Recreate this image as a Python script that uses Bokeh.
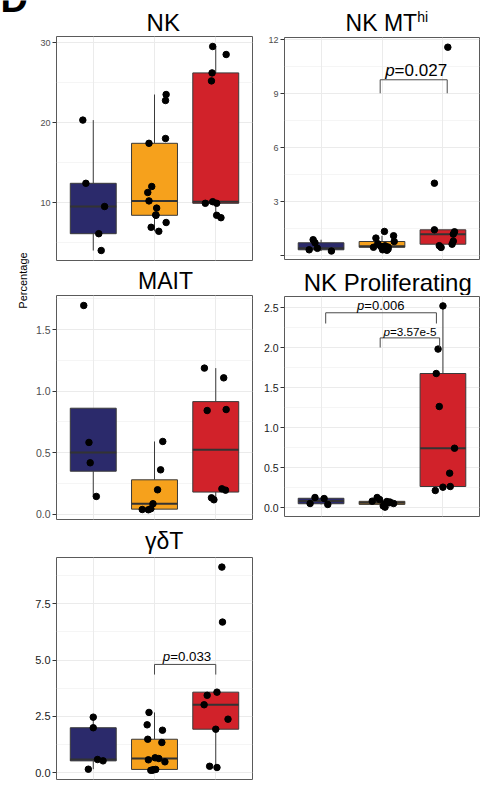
import math
import numpy as np
from bokeh.plotting import figure
from bokeh.models import Range1d, FixedTicker, Label, Grid, ColumnDataSource, NumeralTickFormatter
from bokeh.layouts import row, column
from bokeh.embed import file_html
from bokeh.resources import INLINE

FONT = "Liberation Sans"
MID = 0.35  # distance (in em) from the alphabetic baseline up to the text-box middle

# ---------------- data ----------------
group_names = ["Group 1", "Group 2", "Group 3"]
group_colors = ["#2B2A6B", "#F6A11C", "#D1222A"]

# NK
nk_g1 = [20.3, 12.4, 9.5, 6.1, 4.0]
nk_g2 = [23.5, 22.75, 18.0, 17.4, 12.0, 11.25, 10.2, 9.3, 8.45, 8.4, 7.5, 6.9, 6.4]
nk_g3 = [29.5, 28.5, 26.2, 25.2, 9.9, 10.1, 9.9, 8.4, 8.1]
nk_j1 = [-0.17, -0.12, 0.185, 0.09, 0.13]
nk_j2 = [0.19, 0.18, 0.18, -0.09, -0.045, -0.11, -0.09, 0.035, 0.02, 0.025, 0.19, -0.055, 0.07]
nk_j3 = [-0.05, 0.17, -0.06, -0.07, -0.17, -0.05, 0.015, 0.015, 0.085]

# NK MThi
mt_g1 = [0.89, 0.72, 0.33, 0.41, 0.26]
mt_g2 = [1.35, 1.11, 0.98, 0.79, 0.67, 0.55, 0.52, 0.50, 0.48, 0.47, 0.37, 0.33, 0.30]
mt_g3 = [11.59, 4.03, 1.44, 1.33, 1.2, 0.81, 0.64, 0.56, 0.46]
mt_j1 = [-0.13, -0.10, -0.195, -0.06, 0.17]
mt_j2 = [0.04, 0.19, -0.10, 0.20, -0.07, 0.05, -0.02, -0.01, 0.10, -0.14, 0.10, 0.01, 0.08]
mt_j3 = [0.08, -0.14, -0.14, 0.19, 0.17, 0.17, 0.15, -0.06, -0.03]

# MAIT
mait_g1 = [1.695, 0.584, 0.419, 0.146]
mait_g2 = [0.592, 0.362, 0.2, 0.087, 0.046, 0.038, 0.04]
mait_g3 = [1.187, 1.108, 0.843, 0.851, 0.208, 0.197, 0.135, 0.119]
mait_j1 = [-0.155, -0.07, -0.05, 0.05]
mait_j2 = [0.135, 0.10, 0.05, -0.025, -0.06, -0.10, -0.2]
mait_j3 = [-0.185, 0.13, -0.14, 0.17, 0.10, 0.16, -0.07, -0.03]

# NK Proliferating
pro_g1 = [0.125, 0.112, 0.05, 0.038]
pro_g2 = [0.125, 0.10, 0.079, 0.075, 0.068, 0.06, 0.05, 0.045, 0.033, 0.02, 0.004]
pro_g3 = [2.52, 1.98, 1.675, 1.2625, 0.741, 0.429, 0.2125, 0.254, 0.2625]
pro_j1 = [-0.10, 0.05, -0.18, 0.11]
pro_j2 = [-0.08, -0.04, -0.16, 0.08, 0.13, 0.125, 0.19, 0.05, 0.04, 0.02, 0.05]
pro_j3 = [0.0, -0.08, -0.11, -0.06, 0.19, 0.11, -0.125, 0.0, 0.12]

# gamma delta T
gd_g1 = [2.47, 2.0, 0.59, 0.53, 0.16]
gd_g2 = [2.68, 2.13, 1.89, 1.49, 1.345, 0.666, 0.635, 0.577, 0.488, 0.15, 0.133, 0.12, 0.11]
gd_g3 = [9.13, 6.69, 3.58, 3.44, 3.02, 2.38, 1.935, 0.29, 0.235]
gd_j1 = [0.0, 0.0, 0.07, 0.16, -0.08]
gd_j2 = [-0.09, -0.12, 0.13, -0.11, 0.12, 0.01, 0.07, -0.10, 0.17, 0.02, -0.02, -0.03, -0.06]
gd_j3 = [0.10, 0.11, 0.02, -0.14, -0.19, 0.2, 0.0, -0.10, 0.02]

# y ticks
nk_ticks = [10, 20, 30]
mt_ticks = [0, 3, 6, 9, 12]
mait_ticks = [0, 0.5, 1.0, 1.5]
pro_ticks = [0, 0.5, 1.0, 1.5, 2.0, 2.5]
gd_ticks = [0, 2.5, 5.0, 7.5]

# p-value annotations: (x_start, x_end, bracket_y, tip_y, p_text, text_x, text_baseline_y)
mt_pvals = [(1.97, 3.07, 9.78, 9.03, "0.027", 2.56, 9.96)]
pro_pvals = [(1.076, 2.893, 2.434, 2.30, "0.006", 1.98, 2.4625),
             (1.97, 2.946, 2.12, 2.0, "3.57e-5", 2.46, 2.154)]
gd_pvals = [(2.0, 3.0, 4.81, 4.36, "0.033", 2.53, 4.94)]

# ---------------- helpers ----------------
EM = {'p': .556, '=': .584, '.': .278, 'e': .556, '-': .333}


def em_width(s):
    return sum(EM.get(c, .556) for c in s)


def box_stats(v):
    v = np.asarray(v, float)
    q1, med, q3 = np.percentile(v, [25, 50, 75])
    iqr = q3 - q1
    lo = v[v >= q1 - 1.5 * iqr].min()
    hi = v[v <= q3 + 1.5 * iqr].max()
    return q1, med, q3, min(lo, q1), max(hi, q3)


def make_panel(width, height, borders, yr, ticks, minor, groups, jitters,
               tick_size, tick_color, fmt=None, overrides=None,
               pvals=(), p_sizes=()):
    l, r, t, b = borders
    p = figure(width=width, height=height, x_range=Range1d(0.4, 3.6),
               y_range=Range1d(*yr), output_backend="svg", toolbar_location=None,
               x_axis_type=None, min_border_left=l, min_border_right=r,
               min_border_top=t, min_border_bottom=b,
               background_fill_color="white", border_fill_color="white")
    p.outline_line_color = "#5a5a5a"
    p.outline_line_width = 1
    ax = p.yaxis[0]
    ax.ticker = FixedTicker(ticks=ticks, minor_ticks=minor)
    if fmt:
        ax.formatter = NumeralTickFormatter(format=fmt)
    if overrides:
        ax.major_label_overrides = overrides
    ax.axis_line_color = None
    ax.major_tick_line_color = "#333333"
    ax.major_tick_out = 4
    ax.major_tick_in = 0
    ax.minor_tick_line_color = None
    ax.major_label_standoff = 2
    ax.major_label_text_font = FONT
    ax.major_label_text_font_size = f"{tick_size}px"
    ax.major_label_text_color = tick_color
    p.ygrid.grid_line_color = "#EBEBEB"
    p.ygrid.grid_line_width = 1
    p.ygrid.minor_grid_line_color = "#EFEFEF"
    p.ygrid.minor_grid_line_width = 0.6
    xg = Grid(dimension=0, ticker=FixedTicker(ticks=[1, 2, 3]),
              grid_line_color="#EBEBEB", grid_line_width=1)
    p.add_layout(xg)

    xs = [1, 2, 3]
    stats = [box_stats(g) for g in groups]
    src = ColumnDataSource(dict(
        x=xs, q1=[s[0] for s in stats], med=[s[1] for s in stats],
        q3=[s[2] for s in stats], lo=[s[3] for s in stats], hi=[s[4] for s in stats],
        color=group_colors, name=group_names,
        xl=[x - 0.375 for x in xs], xr=[x + 0.375 for x in xs]))
    p.segment(x0="x", x1="x", y0="q3", y1="hi", source=src, line_color="#3a3a3a", line_width=1)
    p.segment(x0="x", x1="x", y0="q1", y1="lo", source=src, line_color="#3a3a3a", line_width=1)
    p.vbar(x="x", width=0.75, bottom="q1", top="q3", source=src,
           fill_color="color", line_color="#3a3a3a", line_width=1)
    p.segment(x0="xl", x1="xr", y0="med", y1="med", source=src,
              line_color="#333333", line_width=2)

    px, py = [], []
    for i, (g, j) in enumerate(zip(groups, jitters)):
        px += [xs[i] + d for d in j]
        py += list(g)
    p.scatter(x=px, y=py, size=6.5, color="black")

    ppu = (height - t - b) / (yr[1] - yr[0])  # pixels per data unit
    for (x0, x1, yb, yt, txt, tx, ty), ps in zip(pvals, p_sizes):
        p.segment(x0=[x0, x0, x1], x1=[x1, x0, x1], y0=[yb, yb, yb], y1=[yb, yt, yt],
                  line_color="#4a4a4a", line_width=1)
        off = (em_width("p") - em_width("=" + txt)) * ps / 2
        ym = ty + MID * ps / ppu
        p.add_layout(Label(x=tx, y=ym, text="p", text_align="right", x_offset=off,
                           text_font=FONT, text_font_style="italic",
                           text_font_size=f"{ps}px", text_color="black",
                           text_baseline="middle"))
        p.add_layout(Label(x=tx, y=ym, text="=" + txt, text_align="left", x_offset=off,
                           text_font=FONT, text_font_size=f"{ps}px",
                           text_color="black", text_baseline="middle"))
    return p


def make_strip(width, height, labels):
    # a blank strip whose data units equal pixels, measured from its top-left
    s = figure(width=width, height=height, x_range=Range1d(0, width),
               y_range=Range1d(height, 0), x_axis_type=None, y_axis_type=None,
               output_backend="svg", toolbar_location=None, min_border=0,
               outline_line_color=None, background_fill_color="white",
               border_fill_color="white")
    for (txt, x, y, size, align, style, angle) in labels:
        ym = y - MID * size if angle == 0 else y
        s.add_layout(Label(x=x, y=ym, text=txt, text_align=align,
                           text_baseline="middle", angle=angle, text_font=FONT,
                           text_font_size=f"{size}px", text_font_style=style,
                           text_color="black"))
    return s


# ---------------- panels ----------------
p1 = make_panel(230, 231, (24, 5, 1, 6), (2.75, 30.75), nk_ticks, [5, 15, 25],
                [nk_g1, nk_g2, nk_g3], [nk_j1, nk_j2, nk_j3], 9, "#4D4D4D")

p2 = make_panel(222, 231, (19, 3, 2, 7), (-0.21, 12.13), mt_ticks, [1.5, 4.5, 7.5, 10.5],
                [mt_g1, mt_g2, mt_g3], [mt_j1, mt_j2, mt_j3], 9, "#4D4D4D",
                overrides={0: ""}, pvals=mt_pvals, p_sizes=[17])

p3 = make_panel(230, 230, (26, 3, 1, 5), (-0.041, 1.776), mait_ticks, [0.25, 0.75, 1.25, 1.75],
                [mait_g1, mait_g2, mait_g3], [mait_j1, mait_j2, mait_j3], 10.5, "#4D4D4D",
                fmt="0.0")

p4 = make_panel(222, 229, (23, 3, 1, 8), (-0.1125, 2.6375), pro_ticks,
                [0.25, 0.75, 1.25, 1.75, 2.25],
                [pro_g1, pro_g2, pro_g3], [pro_j1, pro_j2, pro_j3], 10.5, "#1A1A1A",
                fmt="0.0", pvals=pro_pvals, p_sizes=[13, 11.7])

p5 = make_panel(230, 230, (22, 8, 2, 6), (-0.297, 9.556), gd_ticks, [1.25, 3.75, 6.25, 8.75],
                [gd_g1, gd_g2, gd_g3], [gd_j1, gd_j2, gd_j3], 11, "#1A1A1A",
                fmt="0.0", pvals=gd_pvals, p_sizes=[13.3])

# ---------------- title strips (y = alphabetic baseline, from strip top) ----------------
t1 = make_strip(230, 35, [("NK", 125.3, 29.9, 24, "center", "normal", 0)])
t2 = make_strip(222, 35, [("NK MT", 151, 30.1, 23, "right", "normal", 0),
                          ("hi", 151, 21.8, 14, "left", "normal", 0)])
t3 = make_strip(230, 28, [("MAIT", 128, 22.3, 23, "center", "normal", 0)])
t4 = make_strip(222, 29, [("NK Proliferating", 117.5, 23.9, 24, "center", "normal", 0)])
t5 = make_strip(230, 31, [("γδT", 126.3, 24.3, 23, "center", "normal", 0)])

fl = make_strip(30, 785, [("Percentage", 22, 280, 11, "center", "normal", math.pi / 2),
                          ("D", 0, 12, 38, "left", "bold", 0)])

layout = row(fl, column(t1, p1, t3, p3, t5, p5), column(t2, p2, t4, p4))

open("out.html", "w").write(file_html(layout, INLINE))
